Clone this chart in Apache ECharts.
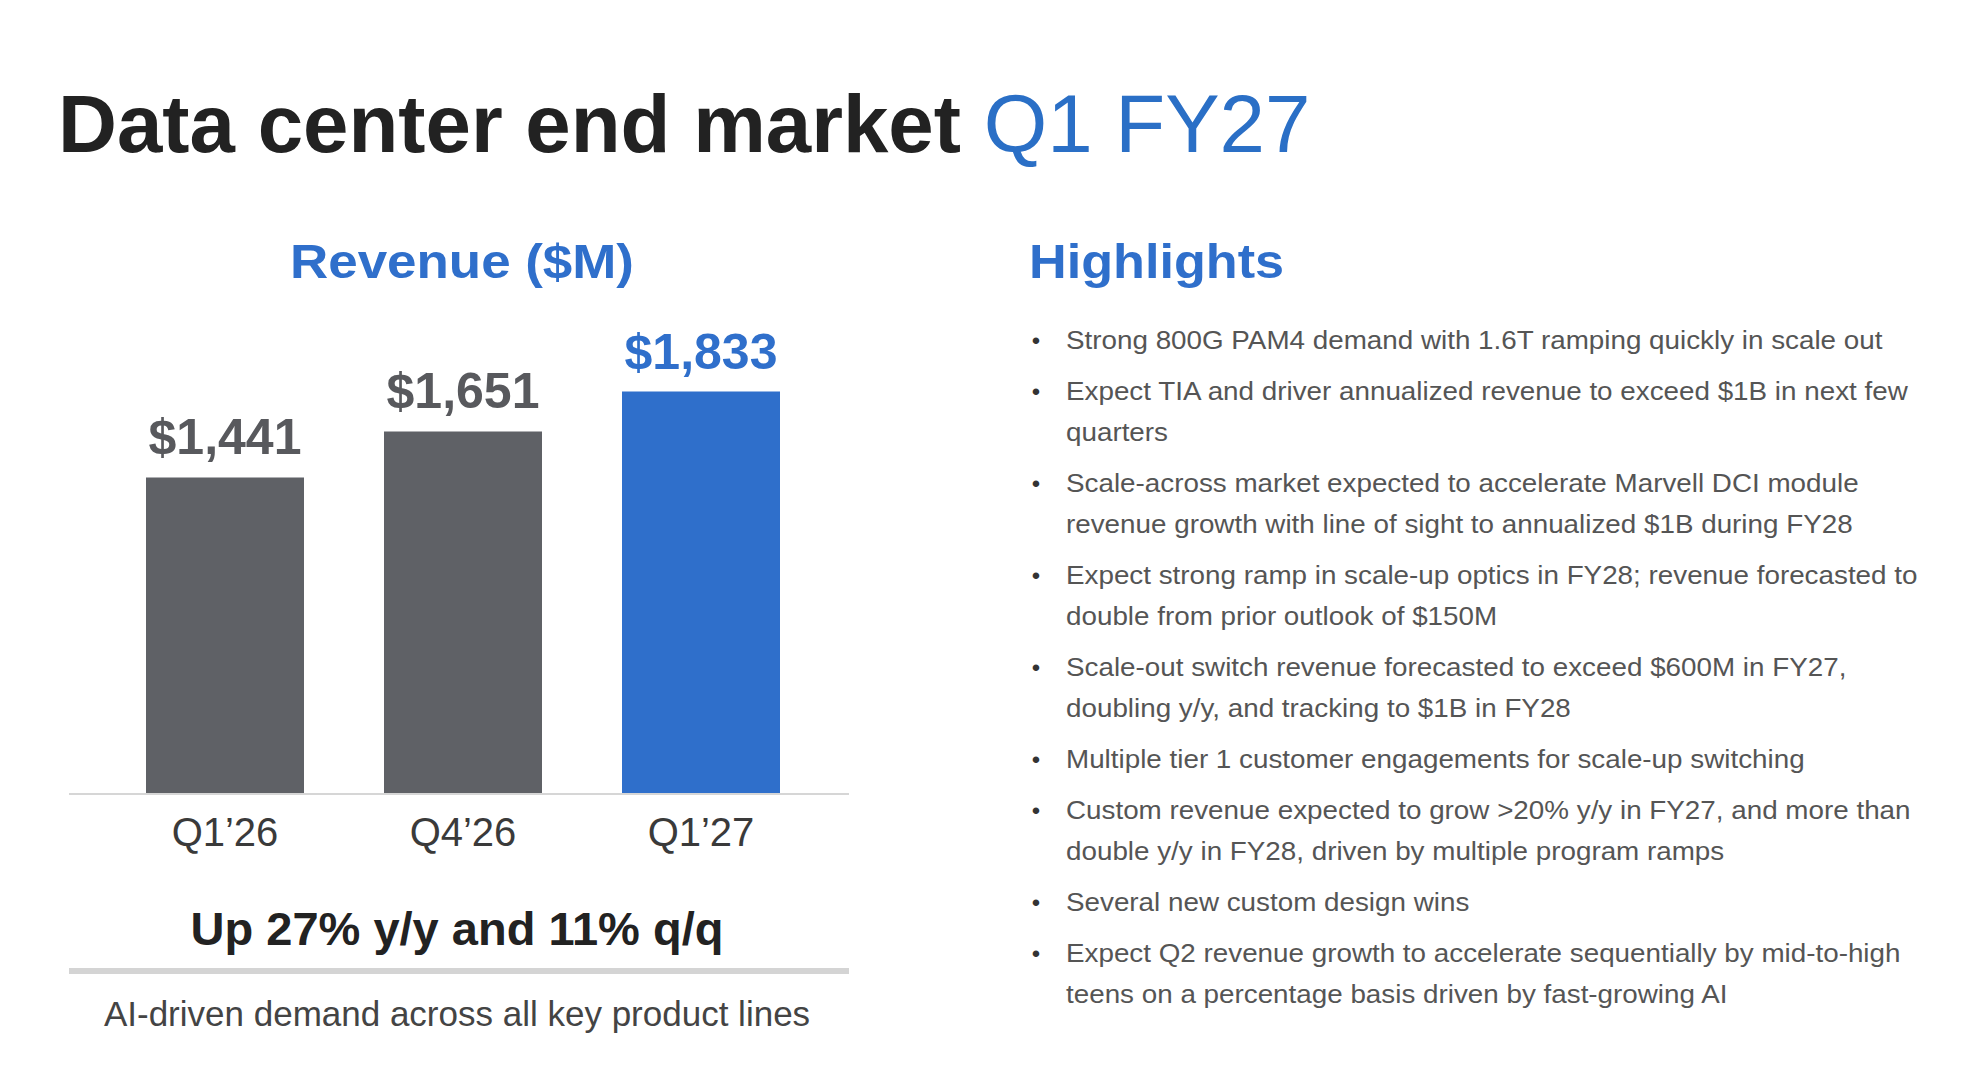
<!DOCTYPE html>
<html>
<head>
<meta charset="utf-8">
<title>Data center end market Q1 FY27</title>
<script src="https://cdn.jsdelivr.net/npm/echarts@6/dist/echarts.min.js"></script>
<style>
	html, body { margin: 0; padding: 0; background: #fff; }
	#main { width: 1962px; height: 1076px; }
</style>
</head>
<body>
<div id="main"></div>
<script>
// data
var quarters = ['Q1\u201926', 'Q4\u201926', 'Q1\u201927'];
var revenue = [1441, 1651, 1833];
var barColors = ['#5f6166', '#5f6166', '#2f6fcb'];
var labelColors = ['#58595d', '#58595d', '#2f6fcb'];
var growthText = 'Up 27% y/y and 11% q/q';
var noteText = 'AI-driven demand across all key product lines';
var highlights = [
	['Strong 800G PAM4 demand with 1.6T ramping quickly in scale out'],
	['Expect TIA and driver annualized revenue to exceed $1B in next few', 'quarters'],
	['Scale-across market expected to accelerate Marvell DCI module', 'revenue growth with line of sight to annualized $1B during FY28'],
	['Expect strong ramp in scale-up optics in FY28; revenue forecasted to', 'double from prior outlook of $150M'],
	['Scale-out switch revenue forecasted to exceed $600M in FY27,', 'doubling y/y, and tracking to $1B in FY28'],
	['Multiple tier 1 customer engagements for scale-up switching'],
	['Custom revenue expected to grow >20% y/y in FY27, and more than', 'double y/y in FY28, driven by multiple program ramps'],
	['Several new custom design wins'],
	['Expect Q2 revenue growth to accelerate sequentially by mid-to-high', 'teens on a percentage basis driven by fast-growing AI']
];

var FONT = 'Arial, "Liberation Sans", sans-serif';
var BLUE = '#2f6fcb';

var chart = echarts.init(document.getElementById('main'), null, {renderer: 'svg'});

// highlight bullets (layout only)
function buildHighlights() {
	var els = [];
	var y = 340;
	for (var i = 0; i < highlights.length; i++) {
		els.push({
			type: 'text', x: 1036, y: y,
			style: {text: '\u2022', font: '24px ' + FONT, fill: '#333', textAlign: 'center', textVerticalAlign: 'middle'}
		});
		for (var j = 0; j < highlights[i].length; j++) {
			els.push({
				type: 'text', x: 1066, y: y, scaleX: 1.07,
				style: {text: highlights[i][j], font: '26px ' + FONT, fill: '#555', textVerticalAlign: 'middle'}
			});
			y += 41;
		}
		y += 10;
	}
	return els;
}

var graphics = [
	{
		type: 'text', x: 58, y: 124, scaleX: 1.008,
		style: {
			text: '{a|Data center end market }{b|Q1 FY27}',
			textVerticalAlign: 'middle',
			rich: {
				a: {font: 'bold 81px ' + FONT, fill: '#222'},
				b: {font: '81px ' + FONT, fill: '#2a6fc6'}
			}
		}
	},
	{
		type: 'text', x: 462, y: 261, scaleX: 1.08,
		style: {text: 'Revenue ($M)', font: 'bold 49px ' + FONT, fill: BLUE, textAlign: 'center', textVerticalAlign: 'middle'}
	},
	{
		type: 'text', x: 1029, y: 261, scaleX: 1.065,
		style: {text: 'Highlights', font: 'bold 49px ' + FONT, fill: BLUE, textVerticalAlign: 'middle'}
	},
	// baseline under the bars
	{
		type: 'line', shape: {x1: 69, y1: 794, x2: 849, y2: 794},
		style: {stroke: '#d6d6d6', lineWidth: 2}
	},
	{
		type: 'text', x: 457, y: 928,
		style: {text: growthText, font: 'bold 47px ' + FONT, fill: '#222', textAlign: 'center', textVerticalAlign: 'middle'}
	},
	{
		type: 'line', shape: {x1: 69, y1: 971, x2: 849, y2: 971},
		style: {stroke: '#d4d4d4', lineWidth: 6}
	},
	{
		type: 'text', x: 457, y: 1013,
		style: {text: noteText, font: '35px ' + FONT, fill: '#444', textAlign: 'center', textVerticalAlign: 'middle'}
	}
].concat(buildHighlights());

var option = {
	backgroundColor: '#fff',
	animation: false,
	grid: {left: 106, top: 355, width: 714, height: 438},
	xAxis: {
		type: 'category',
		data: quarters,
		axisLine: {show: false},
		axisTick: {show: false},
		axisLabel: {margin: 19, fontSize: 40, fontFamily: FONT, color: '#3a3a3a'}
	},
	yAxis: {
		type: 'value', min: 0, max: 2000,
		show: false
	},
	series: [{
		type: 'bar',
		barWidth: 158,
		data: revenue.map(function(v, i) {
			return {
				value: v,
				itemStyle: {color: barColors[i]},
				label: {color: labelColors[i]}
			};
		}),
		label: {
			show: true,
			position: 'top',
			distance: 15,
			fontSize: 50,
			fontWeight: 'bold',
			fontFamily: FONT,
			formatter: function(p) {
				return '$' + p.value.toLocaleString('en-US');
			}
		}
	}],
	graphic: graphics
};

chart.setOption(option);
</script>
</body>
</html>
